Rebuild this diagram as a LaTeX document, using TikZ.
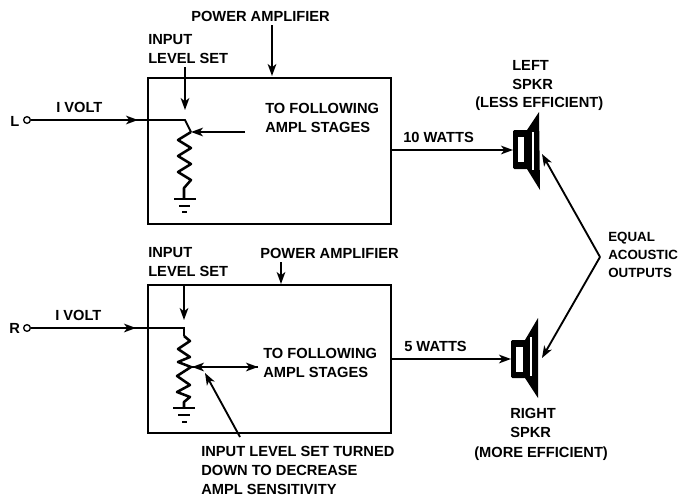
\documentclass[tikz,border=0pt]{standalone}
\usepackage{fontspec}
\setmainfont{Liberation Sans}
\usetikzlibrary{arrows.meta,positioning,calc}
\tikzset{
  >={Stealth[length=9pt,width=6.5pt,inset=2.5pt]},
  lbl/.style ={inner sep=0pt,align=left,font=\fontsize{11}{14.2}\selectfont\bfseries},
  lblnarrow/.style ={inner sep=0pt,align=left,font=\fontsize{10}{13.6}\selectfont\bfseries},
  wire/.style={line width=1.4pt},
  coil/.style={line width=1.9pt,line join=round},
  sig/.style ={->,line width=1.4pt},
  ampbox/.style={draw,line width=1.6pt,inner sep=0pt,minimum width=182pt,rectangle},
  jack/.style={circle,draw,line width=1pt,inner sep=0pt,minimum size=5pt,fill=white},
}
\begin{document}
\begin{tikzpicture}[x=0.75pt,y=-0.75pt]
  \useasboundingbox (0,0) rectangle (679,496);

  % upper channel
  \node[ampbox,minimum height=109.5pt] (ampL) at (269.5,151) {};
  \node[lbl,anchor=west] (pwrL) at (191,16) {POWER AMPLIFIER};
  \node[lbl,anchor=north west] (setL) at (148,34) {INPUT\\LEVEL SET};
  \node[lbl,anchor=west] (jackLtxt) at (10,121) {L};
  \node[jack] (jackL) at (27,120) {};
  \node[lbl,anchor=west] (voltL) at (56,107) {I VOLT};
  \node[lbl,anchor=north west] (folL) at (265,103) {TO FOLLOWING\\AMPL STAGES};
  \node[lbl,anchor=west] (wattL) at (403,137) {10 WATTS};
  \coordinate (topL) at (185,120);
  \coordinate (wipL) at (191,132);
  \coordinate (botL) at (184,198);
  \coordinate (feedL) at (245,132);
  \coordinate (setLtip) at (185,110);
  \coordinate (setLend) at (185,67);
  \coordinate (pwrLtip) at (272,76);
  \coordinate (pwrLend) at (272,25);
  \draw[wire] (jackL)--(topL)--(wipL);
  \draw[sig] (jackL)--(138,120);
  \draw[sig] (setLend)--(setLtip);
  \draw[sig] (pwrLend)--(pwrLtip);
  \draw[sig] (feedL)--(wipL);
  \draw[coil] (wipL)--(178,140)--(191,148)--(178,156)--(191,164)--(178,172)--(191,180)--(184,188)--(botL);
  \draw[wire] (174,199)--(196,199) (179,206)--(190,206);
  \draw[wire] (182,212)--(187,212);

  % lower channel
  \node[ampbox,minimum height=111pt] (ampR) at (269.5,359) {};
  \node[lbl,anchor=west] (pwrR) at (260,253) {POWER AMPLIFIER};
  \node[lbl,anchor=north west] (setR) at (148,247) {INPUT\\LEVEL SET};
  \node[lbl,anchor=west] (jackRtxt) at (9,328) {R};
  \node[jack] (jackR) at (27,328) {};
  \node[lbl,anchor=west] (voltR) at (55,315) {I VOLT};
  \node[lbl,anchor=north west] (folR) at (263,348) {TO FOLLOWING\\AMPL STAGES};
  \node[lbl,anchor=west] (wattR) at (404,346) {5 WATTS};
  \node[lbl,anchor=north west] (turn) at (201,446) {INPUT LEVEL SET TURNED\\DOWN TO DECREASE\\AMPL SENSITIVITY};
  \coordinate (topR) at (184,328);
  \coordinate (wipR) at (192,367);
  \coordinate (botR) at (184,407);
  \coordinate (midR) at (258,367);
  \draw[wire] (jackR)--(topR)--(184,336);
  \draw[sig] (jackR)--(136,328);
  \draw[sig] (184,285)--(184,320);
  \draw[sig] (281,262)--(281,284);
  \draw[sig] (wipR)--(midR);
  \draw[sig] (midR)--(wipR);
  \draw[sig] (240,437)--(205,373);
  \draw[coil] (184,336)--(190,341)--(178,349)--(190,357)--(178,362)--(191,367)--(177,376)--(190,385)--(177,392)--(190,397)--(184,402)--(botR);
  \draw[wire] (173,408)--(195,408) (178,415)--(190,415);
  \draw[wire] (182,422)--(187,422);

  % speakers
  \fill (527,130)--(539,112)--(540,190)--(527,169)--cycle;
  \fill[rounded corners=1pt] (513,130) rectangle (528,169);
  \fill[white] (518,137) rectangle (524,162);
  \fill[white] (532,132) rectangle (533.5,170);
  \coordinate (spkL) at (513,150);
  \fill (525,340)--(538,318)--(538,398)--(525,378)--cycle;
  \fill[rounded corners=1pt] (511,340) rectangle (526,378);
  \fill[white] (516,347) rectangle (523,372);
  \fill[white] (530,337) rectangle (531.5,376);
  \coordinate (spkR) at (511,359);
  \draw[sig] (ampL.east|-spkL)--(spkL);
  \draw[sig] (ampR.east|-spkR)--(spkR);

  \node[lbl,anchor=north west] (nameL) at (512,60) {LEFT\\SPKR};
  \node[lbl,anchor=base west] (effL) at (475,107) {(LESS EFFICIENT)};
  \node[lbl,anchor=north west] (nameR) at (510,408) {RIGHT\\SPKR};
  \node[lbl,anchor=base west] (effR) at (474,457) {(MORE EFFICIENT)};
  \node[lblnarrow,anchor=north west] (equal) at (608,232) {EQUAL\\ACOUSTIC\\OUTPUTS};
  \coordinate (bend) at (600,257);
  \draw[sig] (bend)--(542,154);
  \draw[sig] (bend)--(542,358);
\end{tikzpicture}
\end{document}
